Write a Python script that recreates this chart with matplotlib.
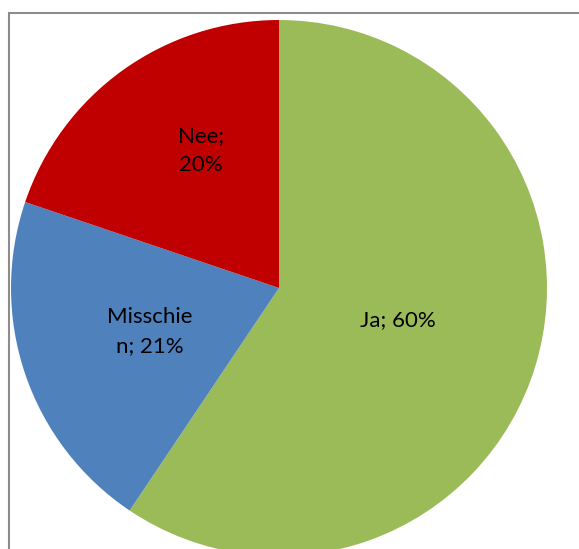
import numpy as np
import matplotlib as mpl
import matplotlib.pyplot as plt
from matplotlib.patches import Rectangle

mpl.rcParams['font.family'] = ['Lato', 'DejaVu Sans']

labels = ['Ja', 'Misschie\nn', 'Nee']
values = [60, 21, 20]
colors = ['#9BBB59', '#4F81BD', '#C00000']
# label placement: fraction of radius and angle nudge (deg) from wedge middle
label_dist = [0.46, 0.51, 0.59]
label_nudge = [2, 0, -6]

W, H = 579, 549
cx, cy, R = 279, 288, 268

fig = plt.figure(figsize=(W / 100, H / 100), dpi=100)
ax = fig.add_axes([0, 0, 1, 1])

wedges, _ = ax.pie(values, colors=colors, startangle=90, counterclock=False,
                   wedgeprops=dict(linewidth=0))

for w, lab, val, d, nd in zip(wedges, labels, values, label_dist, label_nudge):
    ang = np.deg2rad((w.theta1 + w.theta2) / 2 + nd)
    if lab == 'Nee':
        txt = f'{lab};\n{val}%'
    else:
        txt = f'{lab}; {val}%'
    ax.text(d * np.cos(ang), d * np.sin(ang), txt, ha='center', va='center',
            fontsize=16, color='black', linespacing=1.55)

ax.set_xlim(-cx / R, (W - cx) / R)
ax.set_ylim(-(H - cy) / R, cy / R)
ax.set_aspect('equal')
ax.axis('off')

# outer chart frame (cropped at right and bottom)
fig.patches.append(Rectangle((8.5 / W, -0.1), 1.2, 1.1 - 13.5 / H,
                             transform=fig.transFigure, fill=False,
                             edgecolor='#8c8c8c', linewidth=1.5, clip_on=False))

fig.savefig('out.png', dpi=100)
